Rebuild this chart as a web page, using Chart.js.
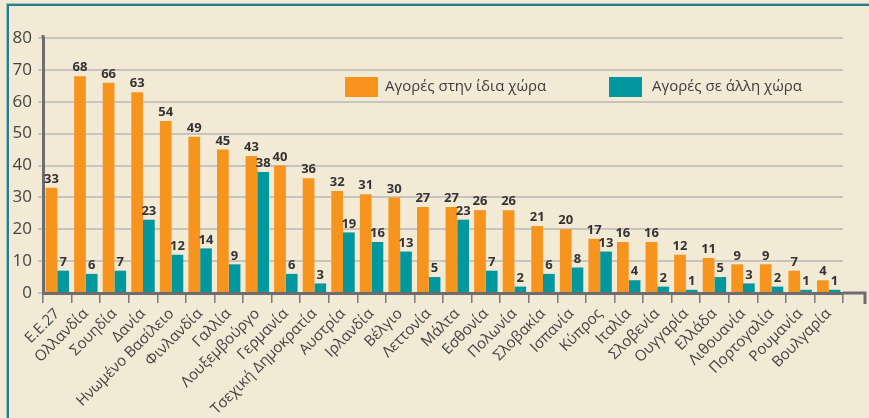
<!DOCTYPE html>
<html>
<head>
<meta charset="utf-8">
<script src="https://cdn.jsdelivr.net/npm/chart.js@4.4.1/dist/chart.umd.min.js"></script>
<style>
  html, body { margin: 0; padding: 0; background: #f3ead6; }
  #wrap { position: relative; width: 869px; height: 418px; overflow: hidden; background: #f3ead6; }
  #frame { position: absolute; left: 7px; top: 4px; width: 870px; height: 420px;
           border-top: 2px solid #2c7d88; border-left: 2px solid #2c7d88; box-sizing: border-box; }
  #frame2 { position: absolute; left: 6px; top: 3px; width: 870px; height: 420px;
           border-top: 1px solid #9cc3c8; border-left: 1px solid #9cc3c8; box-sizing: border-box; }
  canvas { position: absolute; left: 0; top: 0; }
</style>
</head>
<body>
<div id="wrap">
  <div id="frame2"></div>
  <div id="frame"></div>
  <canvas id="c" width="869" height="418"></canvas>
</div>
<script>
const categories = ['Ε.Ε.27','Ολλανδία','Σουηδία','Δανία','Ηνωμένο Βασίλειο','Φινλανδία','Γαλλία','Λουξεμβούργο','Γερμανία','Τσεχική Δημοκρατία','Αυστρία','Ιρλανδία','Βέλγιο','Λεττονία','Μάλτα','Εσθονία','Πολωνία','Σλοβακία','Ισπανία','Κύπρος','Ιταλία','Σλοβενία','Ουγγαρία','Ελλάδα','Λιθουανία','Πορτογαλία','Ρουμανία','Βουλγαρία'];
const sameCountry = [33,68,66,63,54,49,45,43,40,36,32,31,30,27,27,26,26,21,20,17,16,16,12,11,9,9,7,4];
const otherCountry = [7,6,7,23,12,14,9,38,6,3,19,16,13,5,23,7,2,6,8,13,4,2,1,5,3,2,1,1];
const seriesNames = ['Αγορές στην ίδια χώρα','Αγορές σε άλλη χώρα'];
const yTicks = [0,10,20,30,40,50,60,70,80];

const ORANGE = '#f7941d';
const TEAL = '#00979f';
const FONT = "'Open Sans', 'Noto Sans', sans-serif";

const valueLabels = {
  id: 'valueLabels',
  afterDatasetsDraw(chart) {
    const ctx = chart.ctx;
    ctx.save();
    ctx.font = "bold 13px " + FONT;
    ctx.fillStyle = '#333333';
    ctx.textAlign = 'center';
    ctx.textBaseline = 'bottom';
    chart.data.datasets.forEach((ds, i) => {
      const meta = chart.getDatasetMeta(i);
      meta.data.forEach((el, j) => {
        ctx.fillText(String(ds.data[j]), el.x, el.y - 2);
      });
    });
    ctx.restore();
  }
};

const customLegend = {
  id: 'customLegend',
  afterDraw(chart) {
    const ctx = chart.ctx;
    const items = [{x: 345, tx: 385}, {x: 609, tx: 652}];
    ctx.save();
    ctx.font = "15px " + FONT;
    ctx.textBaseline = 'middle';
    ctx.textAlign = 'left';
    chart.data.datasets.forEach((ds, i) => {
      ctx.fillStyle = ds.backgroundColor;
      ctx.fillRect(items[i].x, 77, 33, 20);
      ctx.fillStyle = '#3d3d3d';
      ctx.fillText(ds.label, items[i].tx, 87);
    });
    ctx.restore();
  }
};

const axisExtension = {
  id: 'axisExtension',
  afterDraw(chart) {
    const ctx = chart.ctx;
    const a = chart.chartArea;
    ctx.save();
    ctx.strokeStyle = '#6d6d6d';
    ctx.lineWidth = 3;
    ctx.beginPath();
    ctx.moveTo(a.right, a.bottom);
    ctx.lineTo(865, a.bottom);
    ctx.moveTo(865, a.bottom - 1.5);
    ctx.lineTo(865, a.bottom + 11);
    ctx.moveTo(a.left, a.top - 3);
    ctx.lineTo(a.left, a.top);
    ctx.stroke();
    ctx.restore();
  }
};

new Chart(document.getElementById('c'), {
  type: 'bar',
  data: {
    labels: categories,
    datasets: [
      { label: seriesNames[0], data: sameCountry, backgroundColor: ORANGE, barPercentage: 1.0, categoryPercentage: 0.82 },
      { label: seriesNames[1], data: otherCountry, backgroundColor: TEAL, barPercentage: 1.0, categoryPercentage: 0.82 }
    ]
  },
  options: {
    responsive: false,
    animation: false,
    layout: { padding: { top: 38, right: 26, left: 0, bottom: 0 } },
    plugins: { legend: { display: false }, tooltip: { enabled: false } },
    scales: {
      x: {
        offset: true,
        grid: { offset: true, drawOnChartArea: false, drawTicks: true, tickLength: 10, color: '#7a7a7a', lineWidth: 1.5 },
        border: { color: '#6d6d6d', width: 3 },
        ticks: { autoSkip: false, maxRotation: 45, minRotation: 45, padding: 2, color: '#444444', font: { family: FONT, size: 15 } },
        afterFit(scale) { scale.height = 125; }
      },
      y: {
        min: 0, max: 80,
        afterBuildTicks(scale) { scale.ticks = yTicks.map(v => ({ value: v })); },
        grid: { color: '#c6c4bf', lineWidth: 2, tickLength: 5, tickColor: '#c6c4bf' },
        border: { color: '#6d6d6d', width: 3 },
        ticks: { padding: 6, color: '#444444', font: { family: FONT, size: 17 } },
        afterFit(scale) { scale.width = 43; }
      }
    }
  },
  plugins: [valueLabels, customLegend, axisExtension]
});
</script>
</body>
</html>
